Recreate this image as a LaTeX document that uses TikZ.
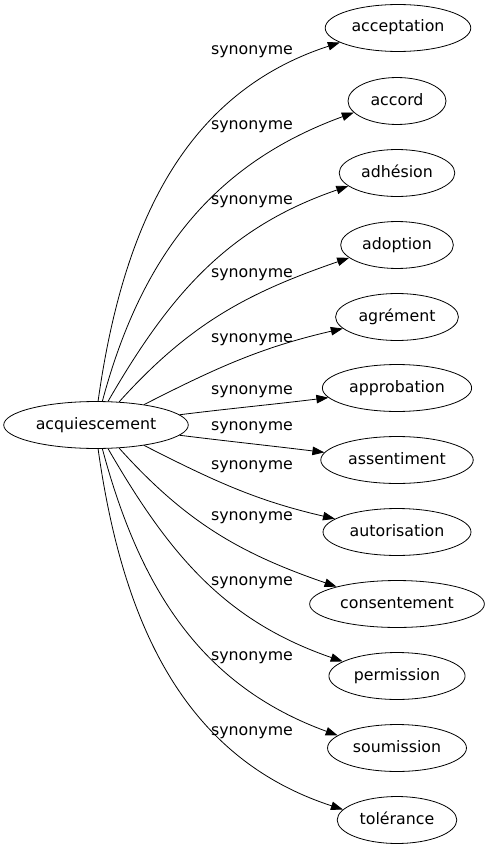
\documentclass[tikz,border=0pt]{standalone}
\usepackage{fontspec}
\setmainfont{DejaVu Sans}
\usetikzlibrary{arrows.meta,shapes.geometric}
\begin{document}
\begin{tikzpicture}[x=1pt,y=1pt,
  every node/.style={font=\fontsize{15.8}{18}\selectfont},
  mot/.style={ellipse,draw,line width=0.8pt,inner xsep=5pt,inner ysep=8.6pt,
    text height=12pt,text depth=4pt,minimum width=98pt},
  syn/.style={-{Triangle[length=12pt,width=8.5pt]},line width=0.8pt},
  lab/.style={anchor=mid}]
\useasboundingbox (0,0) rectangle (487,-851);
\node[mot] (acq) at (96,-425) {acquiescement};
\node[mot] (acceptation) at (398,-28) {acceptation};
\node[mot] (accord) at (397,-101) {accord};
\node[mot] (adhesion) at (397,-173) {adhésion};
\node[mot] (adoption) at (397,-245) {adoption};
\node[mot] (agrement) at (397,-317) {agrément};
\node[mot] (approbation) at (397,-388) {approbation};
\node[mot] (assentiment) at (397,-460) {assentiment};
\node[mot] (autorisation) at (397,-532) {autorisation};
\node[mot] (consentement) at (397,-604) {consentement};
\node[mot] (permission) at (397,-676) {permission};
\node[mot] (soumission) at (397,-748) {soumission};
\node[mot] (tolerance) at (397,-820) {tolérance};
\draw[syn] (acq.85) to[out=82,in=198] (acceptation.194);
\draw[syn] (acq.75) to[out=75,in=200] (accord.195);
\draw[syn] (acq.63) to[out=60,in=199] (adhesion.195);
\draw[syn] (acq.45) to[out=48,in=199] (adoption.195);
\draw[syn] (acq.23) to[out=27,in=193] (agrement.192);
\draw[syn] (acq.7) to[out=7,in=187] (approbation.188);
\draw[syn] (acq.-7) to[out=-7,in=173] (assentiment.174);
\draw[syn] (acq.-23) to[out=-27,in=167] (autorisation.168);
\draw[syn] (acq.-45) to[out=-48,in=161] (consentement.164);
\draw[syn] (acq.-63) to[out=-60,in=161] (permission.165);
\draw[syn] (acq.-75) to[out=-75,in=160] (soumission.168);
\draw[syn] (acq.-85) to[out=-82,in=162] (tolerance.169);
\node[lab] (l1) at (252,-52) {synonyme};
\node[lab] (l2) at (252,-127) {synonyme};
\node[lab] (l3) at (252,-202) {synonyme};
\node[lab] (l4) at (252,-275) {synonyme};
\node[lab] (l5) at (252,-340) {synonyme};
\node[lab] (l6) at (252,-392) {synonyme};
\node[lab] (l7) at (252,-428) {synonyme};
\node[lab] (l8) at (252,-467) {synonyme};
\node[lab] (l9) at (252,-518) {synonyme};
\node[lab] (l10) at (252,-583) {synonyme};
\node[lab] (l11) at (252,-658) {synonyme};
\node[lab] (l12) at (252,-733) {synonyme};
\end{tikzpicture}
\end{document}
